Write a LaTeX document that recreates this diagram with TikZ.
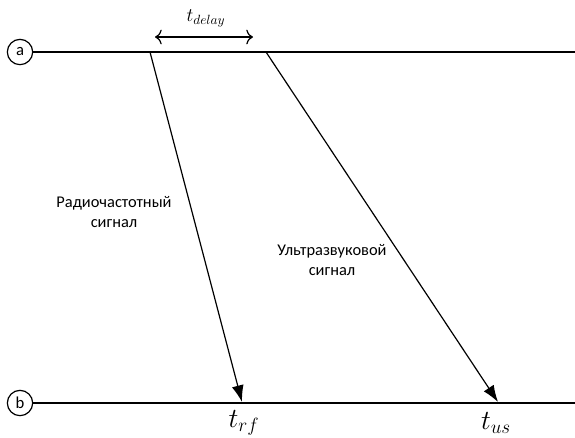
\documentclass[tikz,border=0pt]{standalone}
\usepackage{fontspec}
\setmainfont{Carlito}
\usetikzlibrary{arrows.meta}
\tikzset{
    station/.style={draw, circle, minimum size=19pt, inner sep=0pt, line width=0.9pt, font=\fontsize{12.5}{14}\selectfont},
    timeline/.style={line width=1pt},
    signal/.style={line width=0.9pt, -{Latex[length=12.5pt, width=9pt]}},
    sigtext/.style={align=center, font=\fontsize{12.3}{15}\selectfont},
}

\begin{document}
\begin{tikzpicture}[x=0.75pt, y=-0.75pt]
    \useasboundingbox (0,0) rectangle (575,437);

    % Stations and time axes
    \node[station] (a) at (20, 52) {a};
    \node[station] (b) at (20, 403) {b};
    \coordinate (aend) at (575, 52);
    \coordinate (bend) at (575, 403);
    \draw[timeline] (a) -- (aend);
    \draw[timeline] (b) -- (bend);

    % Signal start and arrival points
    \coordinate (rfstart) at (150, 52);
    \coordinate (usstart) at (266, 52);
    \coordinate (rfend) at (242, 402);
    \coordinate (usend) at (498, 402);
    \draw[signal] (rfstart) -- (rfend);
    \draw[signal] (usstart) -- (usend);

    % Delay between the two signals
    \coordinate (dl) at (155, 37);
    \coordinate (dr) at (253, 37);
    \draw[line width=0.9pt, {To[length=5pt, width=11pt]}-{To[length=5pt, width=11pt]}] (dl) -- (dr);
    \node[font=\fontsize{14}{16}\selectfont] (tdelay) at (206, 18) {$t_{delay}$};

    % Labels
    \node[sigtext] (rftext) at (114, 212) {Радиочастотный\\сигнал};
    \node[sigtext] (ustext) at (332, 260) {Ультразвуковой\\сигнал};
    \node[font=\fontsize{21}{24}\selectfont] (trf) at (244, 423) {$t_{rf}$};
    \node[font=\fontsize{21}{24}\selectfont] (tus) at (496, 423) {$t_{us}$};
\end{tikzpicture}
\end{document}
